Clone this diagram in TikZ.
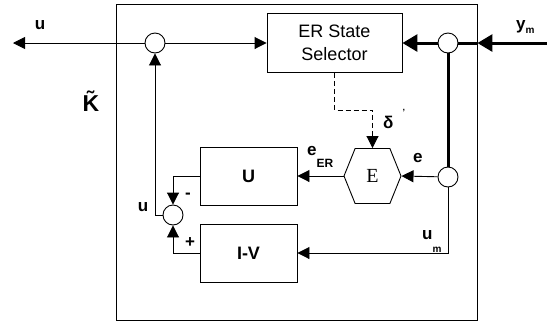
\documentclass[tikz,border=0pt]{standalone}
\usepackage{fontspec}
\setmainfont{Liberation Sans}
\newfontfamily\hexfont{Liberation Serif}
\usetikzlibrary{positioning}
\usetikzlibrary{arrows.meta}
\usetikzlibrary{shapes.symbols}

\begin{document}
\begin{tikzpicture}[
    x=1pt, y=-1pt,
    block/.style={rectangle, draw, line width=0.9pt, minimum width=97pt, minimum height=58pt, inner sep=0pt, font=\fontsize{18}{20}\selectfont\bfseries},
    selbox/.style={rectangle, draw, line width=0.9pt, minimum width=135pt, minimum height=59pt, align=center, inner sep=0pt, font=\fontsize{18}{23}\selectfont},
    hexa/.style={signal, signal to=west and east, signal pointer angle=136, draw, line width=0.9pt, minimum width=57pt, minimum height=55pt, inner sep=0pt, font=\hexfont\fontsize{20}{20}\selectfont},
    junction/.style={circle, draw, line width=0.9pt, fill=white, minimum size=20pt, inner sep=0pt},
    arrow/.style={-{Triangle[length=12pt,width=12pt]}, line width=0.9pt},
    bigarrow/.style={-{Triangle[length=15pt,width=17pt]}, line width=3pt},
    lbl/.style={inner sep=0pt, font=\fontsize{17}{18}\selectfont\bfseries}
]
\useasboundingbox (0,0) rectangle (547,325);

% Frame of the controller
\node[draw, line width=0.9pt, minimum width=361pt, minimum height=316pt, inner sep=0pt] (Kbox) at (296.5,162) {};
\node[inner sep=0pt, font=\fontsize{23}{24}\selectfont\bfseries] (lK) at (91,101) {\~{K}};

% Blocks
\node[selbox] (sel) at (334.5,43) {ER State\\Selector};
\node[block] (U) at (248.5,176) {U};
\node[block] (IV) at (248.5,253) {I-V};
\node[hexa] (hex) at (372.5,176) {E};

% Junctions
\node[junction] (cT) at (155,43) {};
\node[junction] (cS) at (173,215) {};
\node[junction] (cR) at (448,43) {};
\node[junction] (cR2) at (448,177) {};

% Free ends
\coordinate (uout) at (13,43);
\coordinate (ymin) at (547,43);

% Measured input path
\draw[bigarrow] (ymin) -- (Kbox.east |- cR);
\draw[line width=3pt] (Kbox.east |- cR) -- (cR);
\draw[bigarrow] (cR) -- (sel.east |- cR);
\draw[line width=3pt] (cR) -- (cR2);

% Signal arrows
\draw[arrow] (cT) -- (uout);
\draw[arrow] (cT) -- (sel.west |- cT);
\draw[arrow, dash pattern=on 5pt off 3pt] (sel.south) -- ++(0,37) -| (hex.north);
\draw[arrow] (cR2) -- (hex.east);
\draw[arrow] (hex.west) -- (U.east);
\draw[arrow] (cR2.south) |- (IV.east);
\draw[arrow] (U.west) -| (cS.north);
\draw[arrow] (IV.west) -| (cS.south);
\draw[arrow] (cS.west) -| (cT.south);

% Labels
\node[lbl] (lu) at (40,25) {u};
\node[lbl] (luS) at (143,207) {u};
\node[lbl] (lminus) at (188,196) {-};
\node[lbl] (lplus) at (190,243) {+};
\node[lbl, anchor=base west] (ly) at (516,29) {y\raisebox{-4pt}{\fontsize{10}{10}\selectfont m}};
\node[lbl, anchor=base west] (leER) at (307,155) {e\raisebox{-12pt}{\fontsize{12}{13}\selectfont ER}};
\node[lbl, anchor=base west] (le) at (413,162) {e};
\node[lbl, anchor=base west] (ldelta) at (383,128) {δ\hspace{9pt}\raisebox{13pt}{\fontsize{9}{9}\selectfont '}};
\node[lbl, anchor=base west] (lum) at (422,239) {u\raisebox{-13pt}{\fontsize{10}{10}\selectfont m}};
\end{tikzpicture}
\end{document}
